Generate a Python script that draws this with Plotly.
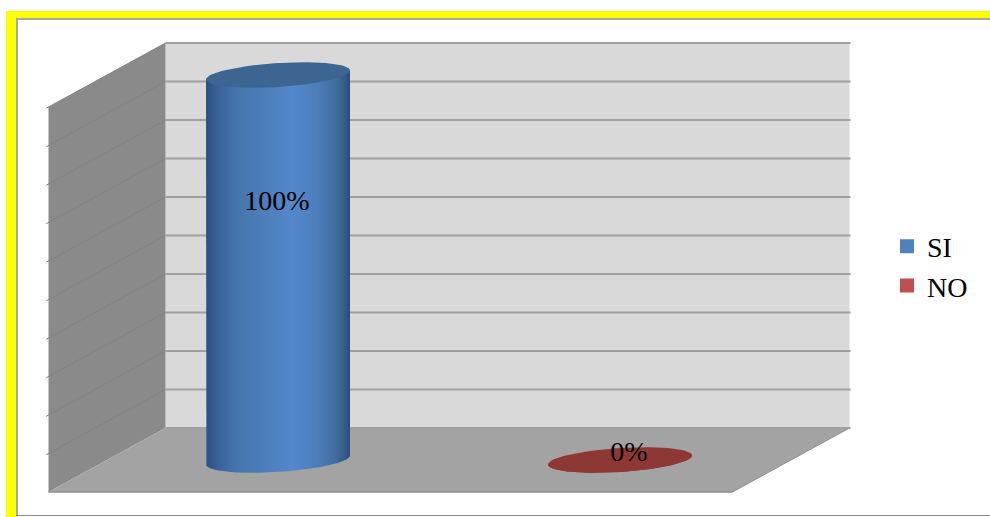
import numpy as np
import plotly.graph_objects as go

# --- data ---
categories = ["SI", "NO"]
values = [100, 0]
labels = ["100%", "0%"]
grid_ticks = [0, 10, 20, 30, 40, 50, 60, 70, 80, 90, 100]

# --- style / projection ---
W, H = 990, 517
PX_X = 342.0      # pixels per category
PX_Y = 3.85       # pixels per percent
DX, DY = -117 / PX_X, -64 / PX_Y   # oblique depth vector
X0, X1 = -0.5, 1.5
RX = 72 / PX_X
RY = 12 / PX_Y
TILT = 4.5 / PX_Y
body_scales = {
    "SI": [[0, "#2c5080"], [0.1, "#3b659a"], [0.22, "#4675ad"], [0.45, "#4f80bf"], [0.6, "#5488cb"],
           [0.78, "#4d7db9"], [0.9, "#416d9f"], [0.97, "#325a87"], [1, "#2b4a70"]],
    "NO": [[0, "#8e3835"], [1, "#8e3835"]],
}
top_colors = {"SI": "#3d6592", "NO": "#8e3835"}
legend_colors = {"SI": "#4f81bd", "NO": "#c0504d"}
FONT = "Liberation Serif"


def proj(c, v, d):
    return np.asarray(c) + np.asarray(d) * DX, np.asarray(v) + np.asarray(d) * DY


def poly(pts, color, line="rgba(0,0,0,0)", lw=0):
    xs, ys = zip(*[proj(*p) for p in pts])
    return go.Scatter(x=list(xs), y=list(ys), mode="lines", fill="toself", fillcolor=color,
                      line=dict(color=line, width=lw), hoverinfo="skip", showlegend=False)


def seg(pts, color, width):
    xs, ys = zip(*[proj(*p) for p in pts])
    return go.Scatter(x=list(xs), y=list(ys), mode="lines", line=dict(color=color, width=width),
                      hoverinfo="skip", showlegend=False)


fig = go.Figure()
vmax = max(grid_ticks)

# walls and floor
fig.add_trace(poly([(X0, 0, 0), (X1, 0, 0), (X1, vmax, 0), (X0, vmax, 0)], "#d9d9d9"))
fig.add_trace(poly([(X0, 0, 0), (X0, vmax, 0), (X0, vmax, 1), (X0, 0, 1)], "#8a8a8a"))
fig.add_trace(poly([(X0, 0, 0), (X1, 0, 0), (X1, 0, 1), (X0, 0, 1)], "#a3a3a3"))

# gridlines
for t in grid_ticks:
    if t > 0:
        fig.add_trace(seg([(X0, t, 1.02), (X0, t, 0)], "#828282", 1))
    fig.add_trace(seg([(X0, t, 0), (X1 + 0.003, t, 0)], "#a0a0a0", 2))
fig.add_trace(seg([(X0, 0, 1), (X1, 0, 1)], "#8f8f8f", 1.5))
fig.add_trace(seg([(X1, 0, 1), (X1, 0, 0)], "#8f8f8f", 1))

# cylinders
for i, (cat, val, lab) in enumerate(zip(categories, values, labels)):
    cx, cy = proj(i, 0, 0.5)
    t_low = np.linspace(np.pi, 2 * np.pi, 60)
    base_x = cx + RX * np.cos(t_low)
    base_y = cy + RY * np.sin(t_low) + TILT * np.cos(t_low)
    body_x = [cx - RX, *base_x, cx + RX, cx - RX]
    body_y = [cy + val - TILT, *base_y, cy + val + TILT, cy + val - TILT]
    fig.add_trace(go.Scatter(x=body_x, y=body_y, mode="lines", fill="toself",
                             line=dict(width=0, color="rgba(0,0,0,0)"),
                             fillgradient=dict(type="horizontal", colorscale=body_scales[cat]),
                             hoverinfo="skip", showlegend=False))
    t = np.linspace(0, 2 * np.pi, 90)
    fig.add_trace(go.Scatter(x=cx + RX * np.cos(t),
                             y=cy + val + RY * np.sin(t) + TILT * np.cos(t),
                             mode="lines", fill="toself", fillcolor=top_colors[cat],
                             line=dict(width=0, color=top_colors[cat]),
                             hoverinfo="skip", showlegend=False))

# data labels
fig.add_trace(go.Scatter(x=[proj(0, 0, 0.5)[0] - 1 / PX_X, proj(1, 0, 0.5)[0] + 9 / PX_X],
                         y=[proj(0, values[0] * 0.667, 0.5)[1], proj(1, values[1], 0.5)[1] + 6 / PX_Y],
                         mode="text", text=labels,
                         textfont=dict(family=FONT, size=28, color="#000000"),
                         hoverinfo="skip", showlegend=False))

# legend
for cat in categories:
    fig.add_trace(go.Scatter(x=[None], y=[None], mode="markers", name=cat, legendgroup=cat,
                             marker=dict(symbol="square", size=14, color=legend_colors[cat])))

# frame
shapes = [
    dict(type="rect", xref="paper", yref="paper", x0=6 / W, x1=16 / W, y0=0, y1=1 - 11 / H,
         fillcolor="#ffff00", line_width=0, layer="above"),
    dict(type="rect", xref="paper", yref="paper", x0=6 / W, x1=1, y0=1 - 18 / H, y1=1 - 11 / H,
         fillcolor="#ffff00", line_width=0, layer="above"),
    dict(type="rect", xref="paper", yref="paper", x0=16 / W, x1=1, y0=1 - 20 / H, y1=1 - 18 / H,
         fillcolor="#a6a6a6", line_width=0, layer="above"),
    dict(type="rect", xref="paper", yref="paper", x0=16 / W, x1=18 / W, y0=1 - 516 / H, y1=1 - 18 / H,
         fillcolor="#a6a6a6", line_width=0, layer="above"),
    dict(type="rect", xref="paper", yref="paper", x0=16 / W, x1=1, y0=1 - 516 / H, y1=1 - 515 / H,
         fillcolor="#8c8c8c", line_width=0, layer="above"),
]

x_back0 = 336.5
y_base = 428
fig.update_layout(
    width=W, height=H,
    margin=dict(l=0, r=0, t=0, b=0),
    paper_bgcolor="#ffffff", plot_bgcolor="#ffffff",
    xaxis=dict(range=[-x_back0 / PX_X, (W - x_back0) / PX_X], visible=False, fixedrange=True),
    yaxis=dict(range=[(y_base - H) / PX_Y, y_base / PX_Y], visible=False, fixedrange=True),
    shapes=shapes,
    showlegend=True,
    legend=dict(x=887 / W, y=1 - 266 / H, xanchor="left", yanchor="middle",
                bgcolor="rgba(0,0,0,0)", tracegroupgap=0,
                font=dict(family=FONT, size=28, color="#000000")),
)
fig.write_html("out.html", config={"displayModeBar": False},
               post_script="document.body.style.margin='0';document.body.style.overflow='hidden';")
